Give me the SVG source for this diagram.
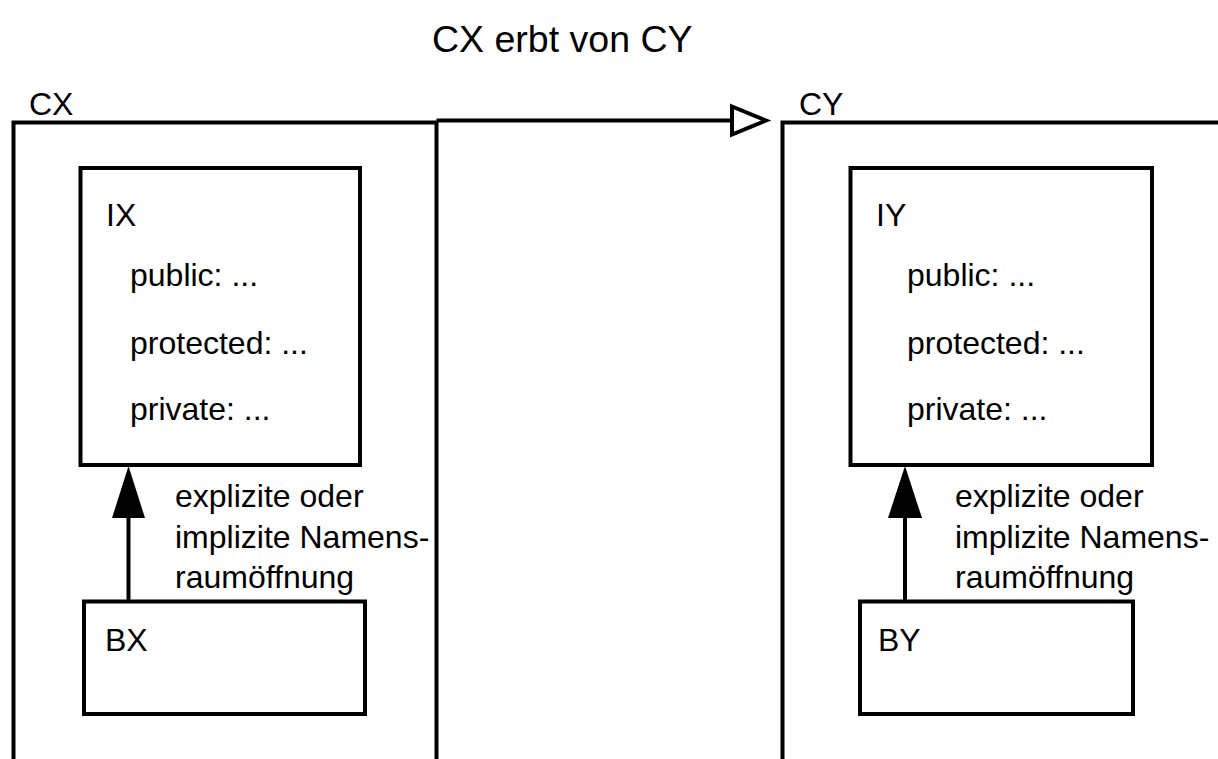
<svg xmlns="http://www.w3.org/2000/svg" width="1218" height="759" viewBox="0 0 1218 759">
  <style>
    text { font-family: "Liberation Sans", Arial, sans-serif; font-size: 32px; fill: #000; }
    .title { font-size: 37.5px; }
    .frame { fill: none; stroke: #000; stroke-width: 4; }
    .box { fill: #fff; stroke: #000; stroke-width: 4; }
    .link { fill: none; stroke: #000; stroke-width: 4; }
    .head { fill: #000; stroke: none; }
    .open-head { fill: #fff; stroke: #000; stroke-width: 4; stroke-linejoin: miter; }
  </style>

  <text class="title" x="432" y="52">CX erbt von CY</text>

  <!-- class CX: open-bottomed frame -->
  <g id="CX">
    <path class="frame" d="M13.5,759 V122.5 H436.5 V759"/>
    <text x="29" y="115">CX</text>
  </g>

  <!-- class CY: open-bottomed, open-right frame -->
  <g id="CY">
    <path class="frame" d="M782.5,759 V122.5 H1218"/>
    <text x="799" y="115">CY</text>
  </g>

  <g id="IX">
    <rect class="box" x="80.5" y="168" width="279.5" height="297"/>
    <text x="106" y="226">IX</text>
    <text x="130" y="286">public: ...</text>
    <text x="130" y="354">protected: ...</text>
    <text x="130" y="420">private: ...</text>
  </g>

  <g id="BX">
    <rect class="box" x="84" y="601.5" width="281" height="112.5"/>
    <text x="105" y="651">BX</text>
  </g>

  <g id="IY">
    <rect class="box" x="850.5" y="168" width="301.5" height="297"/>
    <text x="876" y="226">IY</text>
    <text x="907" y="286">public: ...</text>
    <text x="907" y="354">protected: ...</text>
    <text x="907" y="420">private: ...</text>
  </g>

  <g id="BY">
    <rect class="box" x="860" y="601.5" width="273" height="112.5"/>
    <text x="878" y="651">BY</text>
  </g>

  <g id="connectors">
    <!-- inheritance CX -> CY -->
    <line class="link" x1="436.5" y1="120.5" x2="732" y2="120.5"/>
    <polygon class="open-head" points="732,106.5 766,120.5 732,134.5"/>

    <!-- namespace opening BX -> IX -->
    <line class="link" x1="128.5" y1="601.5" x2="128.5" y2="516"/>
    <polygon class="head" points="128.5,466 145,518 112,518"/>
    <text x="175" y="507">explizite oder</text>
    <text x="175" y="548">implizite Namens-</text>
    <text x="175" y="588">raumöffnung</text>

    <!-- namespace opening BY -> IY -->
    <line class="link" x1="905" y1="601.5" x2="905" y2="516"/>
    <polygon class="head" points="905,466 922,518 888,518"/>
    <text x="955" y="507">explizite oder</text>
    <text x="955" y="548">implizite Namens-</text>
    <text x="955" y="588">raumöffnung</text>
  </g>
</svg>
